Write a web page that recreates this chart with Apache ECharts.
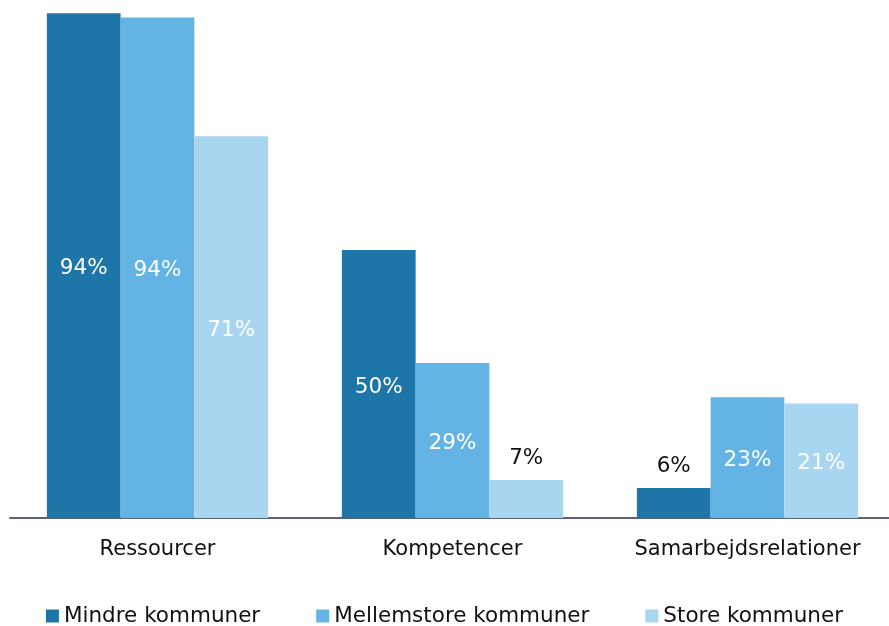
<!DOCTYPE html>
<html>
<head>
<meta charset="utf-8">
<script src="https://cdn.jsdelivr.net/npm/echarts@6/dist/echarts.min.js"></script>
<style>
html,body{margin:0;padding:0;background:#fff;}
#chart{width:889px;height:626px;}
</style>
</head>
<body>
<div id="chart"></div>
<script>
const categories = ['Ressourcer', 'Kompetencer', 'Samarbejdsrelationer'];
const seriesNames = ['Mindre kommuner', 'Mellemstore kommuner', 'Store kommuner'];
const mindre = [94.4, 50.1, 5.6];
const mellemstore = [93.6, 29.0, 22.6];
const store = [71.4, 7.1, 21.4];

const colors = ['#1d75a8', '#63b4e4', '#a8d6f0'];
const FONT = 'DejaVu Sans';

function makeData(values) {
  return values.map(v => {
    const small = v < 10;
    return {
      value: v,
      label: small
        ? { position: 'top', color: '#111', distance: 11 }
        : { position: 'inside', color: '#ffffff', offset: [0, 3] }
    };
  });
}

const allSeries = [mindre, mellemstore, store].map((vals, i) => ({
  name: seriesNames[i],
  type: 'bar',
  data: makeData(vals),
  barGap: '0%',
  barCategoryGap: '25%',
  itemStyle: { color: colors[i] },
  label: {
    show: true,
    fontFamily: FONT,
    fontSize: 21.5,
    formatter: p => Math.round(p.value) + '%'
  },
  emphasis: { disabled: true }
}));

const chart = echarts.init(document.getElementById('chart'), null, { renderer: 'canvas' });
chart.setOption({
  animation: false,
  color: colors,
  grid: { left: 10, width: 885, top: 10, height: 508, containLabel: false, outerBoundsMode: 'none' },
  xAxis: {
    type: 'category',
    data: categories,
    axisTick: { show: false },
    axisLine: { show: true, lineStyle: { color: '#566479', width: 2 } },
    axisLabel: { fontFamily: FONT, fontSize: 21, color: '#111', margin: 21, interval: 0 }
  },
  yAxis: {
    type: 'value',
    min: 0,
    max: 95,
    show: false,
    splitLine: { show: false }
  },
  legend: {
    left: 'center',
    top: 600,
    icon: 'rect',
    itemWidth: 13,
    itemHeight: 13,
    itemGap: 56,
    textStyle: { fontFamily: FONT, fontSize: 21.5, color: '#111' },
    data: seriesNames
  },
  series: allSeries
});
</script>
</body>
</html>
